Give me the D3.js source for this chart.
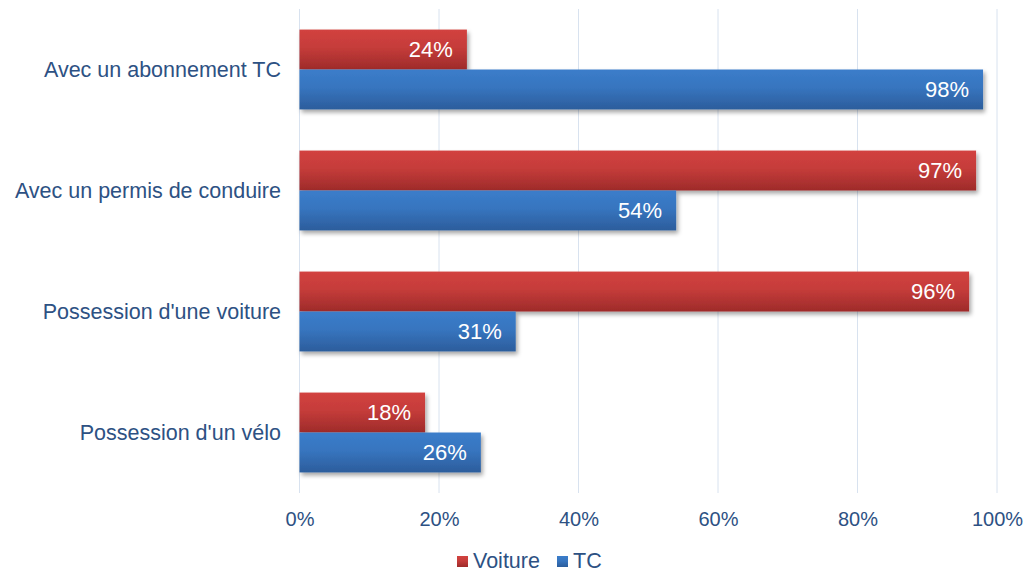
<!DOCTYPE html>
<html>
<head>
<meta charset="utf-8">
<script src="https://cdn.jsdelivr.net/npm/d3@7"></script>
<style>
  html, body { margin: 0; padding: 0; background: #fff; }
  svg { display: block; }
  text { font-family: "Liberation Sans", Arial, sans-serif; }
</style>
</head>
<body>
<svg id="chart" width="1026" height="574"></svg>
<script>
// Categories and shares (%) per series
const categories = [
  "Avec un abonnement TC",
  "Avec un permis de conduire",
  "Possession d'une voiture",
  "Possession d'un vélo"
];
const seriesNames = ["Voiture", "TC"];
const voitureValues = [24, 97, 96, 18];
const tcValues = [98, 54, 31, 26];
const xTicks = [0, 20, 40, 60, 80, 100];

const seriesValues = { "Voiture": voitureValues, "TC": tcValues };
const rows = categories.map((c, i) => ({
  category: c,
  values: seriesNames.map(s => ({ series: s, value: seriesValues[s][i] }))
}));

const textColor = "#2d5183";
const svg = d3.select("#chart");

const plot = { left: 299.5, right: 997, top: 9, bottom: 493 };

const x = d3.scaleLinear().domain([0, 100]).range([plot.left, plot.right]);
const y0 = d3.scaleBand().domain(categories).range([plot.top, plot.bottom]).paddingInner(0.34).paddingOuter(0.17);
const y1 = d3.scaleBand().domain(seriesNames).range([0, y0.bandwidth()]);

// Gradients and shadow
const defs = svg.append("defs");
const grads = {
  "Voiture": ["#d2423f", "#9e2b2a"],
  "TC": ["#3b7dca", "#2c5d9c"]
};
Object.entries(grads).forEach(([name, [top, bottom]]) => {
  const g = defs.append("linearGradient")
    .attr("id", "grad-" + name).attr("x1", 0).attr("y1", 0).attr("x2", 0).attr("y2", 1);
  g.append("stop").attr("offset", "0%").attr("stop-color", top);
  g.append("stop").attr("offset", "45%").attr("stop-color", d3.interpolateRgb(top, bottom)(0.25));
  g.append("stop").attr("offset", "100%").attr("stop-color", bottom);
});
const shadow = defs.append("filter").attr("id", "shadow")
  .attr("x", "-5%").attr("y", "-20%").attr("width", "115%").attr("height", "160%");
shadow.append("feDropShadow")
  .attr("dx", 2).attr("dy", 3).attr("stdDeviation", 2)
  .attr("flood-color", "#000").attr("flood-opacity", 0.35);

// Vertical gridlines
svg.append("g")
  .selectAll("line")
  .data(xTicks)
  .join("line")
  .attr("x1", d => x(d)).attr("x2", d => x(d))
  .attr("y1", plot.top).attr("y2", plot.bottom)
  .attr("stroke", "#d8e2ef").attr("stroke-width", 1);

// X axis tick labels
const xAxis = d3.axisBottom(x).tickValues(xTicks).tickFormat(d => d + "%").tickSize(0).tickPadding(0);
const xg = svg.append("g").attr("transform", `translate(0,${plot.bottom})`).call(xAxis);
xg.select(".domain").remove();
xg.selectAll("text")
  .attr("y", 33).attr("dy", 0)
  .attr("fill", textColor).attr("font-size", 20)
  .attr("font-family", "Liberation Sans, Arial, sans-serif");

// Category labels
const yAxis = d3.axisLeft(y0).tickSize(0).tickPadding(0);
const yg = svg.append("g").attr("transform", `translate(${281},0)`).call(yAxis);
yg.select(".domain").remove();
yg.selectAll("text")
  .attr("fill", textColor).attr("font-size", 21.5)
  .attr("dy", "0.35em")
  .attr("font-family", "Liberation Sans, Arial, sans-serif");

// Bars
const groups = svg.append("g").selectAll("g")
  .data(rows)
  .join("g")
  .attr("transform", d => `translate(0,${y0(d.category)})`);

groups.selectAll("rect")
  .data(d => d.values)
  .join("rect")
  .attr("x", x(0))
  .attr("y", d => y1(d.series))
  .attr("width", d => x(d.value) - x(0))
  .attr("height", y1.bandwidth())
  .attr("fill", d => `url(#grad-${d.series})`)
  .attr("filter", "url(#shadow)");

// Value labels
groups.selectAll("text.val")
  .data(d => d.values)
  .join("text")
  .attr("class", "val")
  .attr("x", d => x(d.value) - 14)
  .attr("y", d => y1(d.series) + y1.bandwidth() / 2)
  .attr("dy", "0.35em")
  .attr("text-anchor", "end")
  .attr("fill", "#ffffff")
  .attr("font-size", 22)
  .text(d => d.value + "%");

// Legend
const legend = svg.append("g").attr("transform", "translate(457,568)");
const legendItems = [
  { name: "Voiture", x: 0 },
  { name: "TC", x: 100 }
];
const li = legend.selectAll("g").data(legendItems).join("g")
  .attr("transform", d => `translate(${d.x},0)`);
li.append("rect")
  .attr("x", 0).attr("y", -12).attr("width", 11).attr("height", 11)
  .attr("fill", d => `url(#grad-${d.name})`);
li.append("text")
  .attr("x", 16).attr("y", 0)
  .attr("fill", textColor).attr("font-size", 21.5)
  .text(d => d.name);
</script>
</body>
</html>
